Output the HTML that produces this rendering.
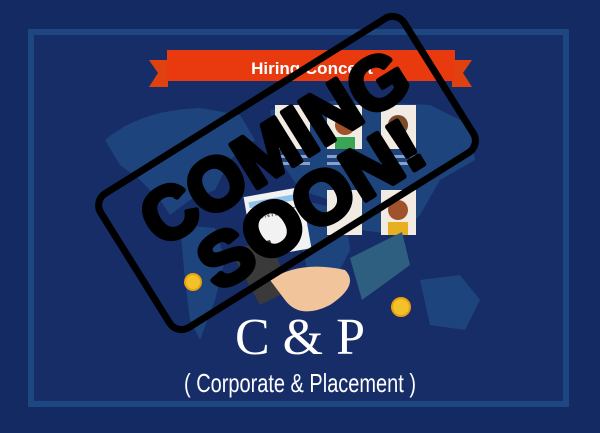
<!DOCTYPE html>
<html><head><meta charset="utf-8"><style>
html,body{margin:0;padding:0;background:#142a62;}
svg{display:block}
</style></head><body>
<svg width="600" height="433" viewBox="0 0 600 433" xmlns="http://www.w3.org/2000/svg">
<rect x="0" y="0" width="600" height="433" fill="#142a62"/>
<rect x="31" y="32" width="535" height="372" fill="#172d68" stroke="#1c4781" stroke-width="6"/>
<g fill="#214e86" opacity="0.7">
<path d="M105 140 Q140 110 200 108 L240 115 L255 140 L230 160 L215 190 L190 200 L170 215 L160 200 L140 180 L120 165 Z"/>
<path d="M180 225 L215 228 L225 260 L215 300 L200 340 L190 320 L185 280 Z"/>
<path d="M270 110 L340 100 L430 105 L470 125 L475 160 L440 180 L420 215 L400 235 L360 230 L330 200 L300 190 L280 160 Z"/>
<path d="M300 200 L345 210 L350 250 L330 290 L310 280 L300 240 Z"/>
<path d="M420 280 L460 275 L480 300 L465 330 L430 325 Z"/>
</g>
<g>
<polygon points="149,60 168,60 168,87 149,87 158,73" fill="#e0420f"/>
<polygon points="472,60 452,60 452,87 472,87 463,73" fill="#e0420f"/>
<rect x="167" y="50" width="288" height="31" fill="#e83a0e"/>
<text x="312" y="74" font-family="Liberation Sans, sans-serif" font-weight="bold" font-size="17" fill="#fff" text-anchor="middle">Hiring Concept</text>
</g>
<g>
<rect x="275" y="105" width="35" height="44" fill="#f1ebe3"/>
<rect x="327" y="105" width="35" height="44" fill="#f1ebe3"/>
<rect x="381" y="105" width="35" height="44" fill="#f1ebe3"/>
<rect x="327" y="190" width="35" height="45" fill="#f1ebe3"/>
<rect x="381" y="190" width="35" height="45" fill="#f1ebe3"/>
<circle cx="345" cy="125" r="10" fill="#a0522d"/><rect x="335" y="137" width="20" height="12" fill="#3aa655"/>
<circle cx="398" cy="125" r="10" fill="#7a4a2a"/>
<circle cx="398" cy="210" r="10" fill="#a0522d"/><rect x="388" y="222" width="20" height="13" fill="#e8b020"/>
<g fill="#8aa0c8"><rect x="275" y="155" width="35" height="3"/><rect x="275" y="162" width="35" height="3"/><rect x="327" y="155" width="35" height="3"/><rect x="327" y="162" width="35" height="3"/><rect x="381" y="155" width="35" height="3"/><rect x="381" y="162" width="35" height="3"/></g>
</g>
<g transform="rotate(-10 275 220)">
<rect x="248" y="192" width="58" height="62" fill="#f2f2f2"/>
<rect x="252" y="198" width="50" height="6" fill="#8ec2e8"/>
<text x="253" y="216" font-family="Liberation Sans, sans-serif" font-size="8" font-weight="bold" fill="#667">CONTRACT</text>
</g>
<g>
<polygon points="350,258 402,232 410,265 362,300" fill="#2f5f80"/>
<polygon points="230,250 270,240 290,290 260,305" fill="#3a3a3a"/>
<path d="M270 280 Q300 260 345 270 Q360 285 330 305 Q300 320 285 300 Z" fill="#f2c49b"/>
</g>
<circle cx="193" cy="282" r="8" fill="#f3c22b" stroke="#e8a010" stroke-width="2"/>
<circle cx="401" cy="307" r="9" fill="#f3c22b" stroke="#e8a010" stroke-width="2"/>
<g transform="rotate(-32 287 173)">
<rect x="108" y="94" width="358" height="158" rx="14" fill="none" stroke="#000" stroke-width="7"/>
<text x="290" y="170" font-family="Liberation Sans, sans-serif" font-weight="bold" font-size="74" fill="#000" stroke="#000" stroke-width="5" stroke-linejoin="round" text-anchor="middle" textLength="300" lengthAdjust="spacingAndGlyphs">COMING</text>
<text x="290" y="238" font-family="Liberation Sans, sans-serif" font-weight="bold" font-size="74" fill="#000" stroke="#000" stroke-width="5" stroke-linejoin="round" text-anchor="middle" textLength="250" lengthAdjust="spacingAndGlyphs">SOON!</text>
</g>
<text x="300" y="354" font-family="Liberation Serif, serif" font-size="52" fill="#fff" text-anchor="middle">C &amp; P</text>
<text x="300" y="392" font-family="Liberation Sans Narrow, Liberation Sans, sans-serif" font-size="26" fill="#fff" text-anchor="middle" textLength="232" lengthAdjust="spacingAndGlyphs">( Corporate &amp; Placement )</text>
</svg>
</body></html>
